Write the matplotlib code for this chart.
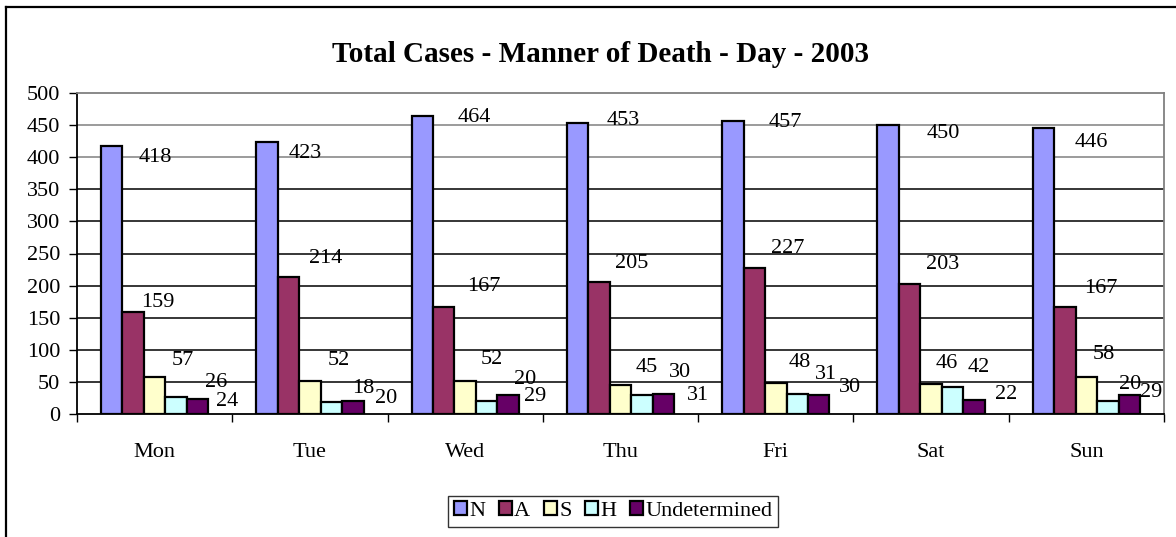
import matplotlib
matplotlib.use("Agg")
import matplotlib.pyplot as plt
from matplotlib.lines import Line2D
import numpy as np

# ---- data ----
days = ["Mon", "Tue", "Wed", "Thu", "Fri", "Sat", "Sun"]
series_names = ["N", "A", "S", "H", "Undetermined"]
N = [418, 423, 464, 453, 457, 450, 446]
A = [159, 214, 167, 205, 227, 203, 167]
S = [57, 52, 52, 45, 48, 46, 58]
H = [26, 18, 20, 30, 31, 42, 20]
U = [24, 20, 29, 31, 30, 22, 29]
title = "Total Cases - Manner of Death - Day - 2003"
yticks = [0, 50, 100, 150, 200, 250, 300, 350, 400, 450, 500]

# ---- style ----
colors = ["#9999FF", "#993366", "#FFFFCC", "#CCFFFF", "#660066"]
# Excel-style value-label offsets (pixels, relative to bar top centre: right, down)
label_dx = [
    [44, 25, 28, 40, 30],
    [38, 37, 29, 32, 33],
    [52, 40, 27, 38, 27],
    [46, 33, 26, 38, 35],
    [52, 33, 24, 29, 31],
    [55, 33, 16, 26, 32],
    [48, 36, 17, 22, 22],
]
label_dy = [
    [12, -9, -17, -15, 3],
    [11, -18, -20, -14, -3],
    [1, -20, -21, -22, 1],
    [-3, -19, -18, -22, 1],
    [2, -20, -21, -20, -7],
    [8, -19, -21, -20, -5],
    [15, -18, -22, -17, -3],
]

plt.rcParams["font.family"] = ["Liberation Serif", "DejaVu Serif"]
W, Hh, DPI = 1176, 537, 100
fig = plt.figure(figsize=(W / DPI, Hh / DPI), dpi=DPI)
ax = fig.add_axes([77 / W, 1 - 414 / Hh, (1164 - 77) / W, (414 - 93) / Hh])

FS = 16
series = [N, A, S, H, U]
n = len(series)
bw = 0.138
x = np.arange(len(days))
px2pt = 72 / DPI
for i, (vals, c, name) in enumerate(zip(series, colors, series_names)):
    pos = x + (i - (n - 1) / 2) * bw
    ax.bar(pos, vals, width=bw, color=c, edgecolor="black", linewidth=1.6,
           label=name, zorder=3)
    for d, (xp, v) in enumerate(zip(pos, vals)):
        ax.annotate(str(v), (xp, v),
                    xytext=(label_dx[d][i] * px2pt, -label_dy[d][i] * px2pt),
                    textcoords="offset points", ha="center", va="center",
                    fontsize=FS, color="black", zorder=5)

ax.set_xlim(-0.5, len(days) - 0.5)
ax.set_ylim(0, 500)
ax.set_yticks(yticks)
ax.set_yticklabels([str(t) for t in yticks], fontsize=FS)
ax.tick_params(axis="y", direction="out", length=6, width=1, pad=6)

ax.set_xticks(np.arange(len(days) + 1) - 0.5)
ax.set_xticklabels([])
ax.set_xticks(x, minor=True)
ax.set_xticklabels(days, minor=True, fontsize=FS)
ax.tick_params(axis="x", which="major", direction="out", length=6, width=1)
ax.tick_params(axis="x", which="minor", length=0, pad=21)

for t in yticks[1:-1]:
    col = "#808080" if t >= 400 else "black"
    ax.axhline(t, color=col, linewidth=1.1, zorder=1)
ax.spines["left"].set_color("black")
ax.spines["bottom"].set_color("black")
ax.spines["top"].set_color("#808080")
ax.spines["right"].set_color("#808080")
for s in ax.spines.values():
    s.set_linewidth(1.3)

fig.text(600 / W, 1 - 55 / Hh, title, ha="center", va="center",
         fontsize=21, fontweight="bold")

handles = [plt.Rectangle((0, 0), 1, 1, facecolor=c, edgecolor="black", linewidth=1.6)
           for c in colors]
leg = fig.legend(handles, series_names, loc="center", bbox_to_anchor=(613 / W, 1 - 511 / Hh),
                 ncol=5, fontsize=FS, frameon=True, fancybox=False,
                 handlelength=0.6, handleheight=0.6, handletextpad=0.1,
                 columnspacing=0.6, borderpad=0.25, borderaxespad=0)
leg.get_frame().set_edgecolor("black")
leg.get_frame().set_linewidth(1.0)

# figure border (top and left edges)
fig.add_artist(Line2D([6 / W, 1], [1 - 7 / Hh, 1 - 7 / Hh], transform=fig.transFigure,
                      color="black", linewidth=1.6))
fig.add_artist(Line2D([6 / W, 6 / W], [0, 1 - 7 / Hh], transform=fig.transFigure,
                      color="black", linewidth=1.6))

fig.savefig("out.png", dpi=DPI)
